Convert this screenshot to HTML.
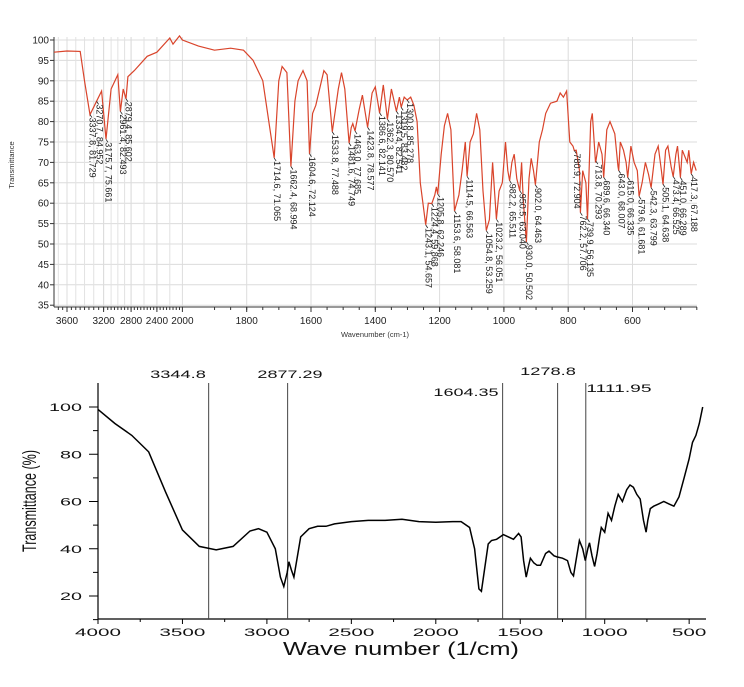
<!DOCTYPE html>
<html><head><meta charset="utf-8"><style>
body{margin:0;background:#fff;width:744px;height:687px;overflow:hidden}
svg{display:block;font-family:"Liberation Sans",sans-serif}
</style></head><body>
<svg id="chart" width="744" height="687" viewBox="0 0 744 687"></svg>
<script>
// ---- top chart data ----
const topWaves=[3750,3600,3450,3400,3337.8,3270.7,3220,3175.7,3100,3000,2961.4,2920,2879.4,2850,2750,2550,2400,2200,2150,2050,2000,1950,1900,1850,1810,1780,1750,1714.6,1700,1690,1675,1662.4,1650,1640,1625,1612,1604.6,1595,1585,1560,1550,1533.8,1515,1505,1495,1481.6,1475,1470,1463,1450,1440,1423.8,1410,1400,1386.6,1375,1362.3,1350,1334.4,1325,1319.5,1310,1300.8,1290,1280,1270,1260,1243.1,1235,1224.4,1215,1210,1205.8,1195,1185,1175,1165,1153.6,1140,1130,1120,1114.5,1105,1095,1085,1075,1065,1054.8,1045,1035,1023.2,1015,1005,995,988,982.2,975,968,960,950.5,945,940,930,922,915,908,902,890,880,870,855,835,825,815,805,795,785,780.9,775,765,762.2,755,745,739.9,730,725,715,713.8,705,695,689.6,680,670,655,645,643,638,628,620,615,605,595,585,579.6,570,560,550,542.3,530,520,510,505.1,497,490,480,473.4,465,460,451,445,440,430,425,417.3,410,402];
const topTrans=[97,97.3,97.2,90,81.7,85,87.5,75.7,88,91.5,82.5,88,85.6,91,92.5,96,97,100.5,99,101,100,98.5,97.5,98,97.5,95,90,71.1,90,93.5,92,69,85,90,92.5,90,72.1,82,84,92.5,91.5,77.5,88,92,88,74.7,78.5,79.5,77.7,83,86.5,78.6,87,88.5,82.1,89,80.6,88,82.5,86,83.5,86,85.3,86,84,80,65,54.7,60,59.9,62,64,62.2,72,79,82,78,58.1,62,68,75,66.6,75,77,82,78,63,53.3,56,70,56.1,63,65,75,68,65.5,70,72,66,63,70,61,50.5,66,71,68,64.5,75,78,82,84.5,85,87,86,87.5,75,74,72.9,73,68,57.7,68,65,56.1,80,82,70,70.3,75,72,66.3,78,80,77,69,68,75,73,70,66.3,74,70,68,61.7,65,70,67,63.8,72,74,68,64.6,73,74,69,66.5,72,74,66.3,73,72,70,73,67.2,70,68];
const peakWaves=[3337.8,3270.7,3175.7,2961.4,2879.4,1714.6,1662.4,1604.6,1533.8,1481.6,1463.0,1423.8,1386.6,1362.3,1334.4,1319.5,1300.8,1243.1,1224.4,1205.8,1153.6,1114.5,1054.8,1023.2,982.2,950.5,930.0,902.0,780.9,762.2,739.9,713.8,689.6,643.0,615.0,579.6,542.3,505.1,473.4,451.0,417.3];
const peakTrans=[81.729,84.952,75.661,82.493,85.602,71.065,68.994,72.124,77.488,74.749,77.685,78.577,82.141,80.570,82.541,83.482,85.278,54.657,59.868,62.246,58.081,66.563,53.259,56.051,65.511,63.040,50.502,64.463,72.904,57.706,56.135,70.293,66.340,68.007,66.335,61.681,63.799,64.638,66.525,66.289,67.188];
const topYTicks=[100,95,90,85,80,75,70,65,60,55,50,45,40,35];
const topXTicks=[3600,3200,2800,2400,2000,1800,1600,1400,1200,1000,800,600];
// ---- bottom chart data ----
const botWaves=[4000,3900,3800,3700,3600,3500,3400,3300,3200,3100,3050,3000,2950,2920,2900,2880,2870,2855,2840,2800,2750,2700,2650,2600,2500,2400,2300,2200,2100,2000,1900,1850,1800,1770,1745,1730,1710,1690,1670,1640,1600,1570,1540,1510,1495,1480,1465,1450,1440,1420,1400,1380,1350,1330,1300,1280,1250,1220,1200,1185,1170,1150,1130,1115,1100,1090,1075,1060,1045,1030,1020,1000,980,960,940,920,895,870,850,830,810,790,770,755,745,730,710,680,650,620,590,560,530,500,480,460,440,420];
const botTrans=[99,93,88,81,64,48,41,39.5,41,47.5,48.5,47,40,28,24,30,34.5,31,28,45,48.5,49.5,49.5,50.5,51.5,52,52,52.5,51.5,51.2,51.5,51.5,49,40,23,22,32,42,43.5,44,46,45,44,46.5,45,35,28,33,36,34,33,33,38,39,37,36.5,36,35,30,28.5,35,43.5,40,35,40,42.5,37,32.5,38,45,49,47,55,52,58,63,60,65,67,66,63,61,52,47,52,57,58,59,60,59,58,62,70,78,85,88,93,100];
const markerWaves=[3344.8,2877.29,1604.35,1278.8,1111.95];
const markerLabels=["3344.8","2877.29","1604.35","1278.8","1111.95"];
const botYTicks=[100,80,60,40,20];
const botXTicks=[4000,3500,3000,2500,2000,1500,1000,500];

const NS="http://www.w3.org/2000/svg";
const svg=document.getElementById('chart');
function mk(tag,attrs,parent,text){const e=document.createElementNS(NS,tag);for(const k in attrs)e.setAttribute(k,attrs[k]);if(text!==undefined)e.textContent=text;(parent||svg).appendChild(e);return e;}

const topLeft=[[3750,54],[3600,67],[3337.8,90],[3175.7,106],[2879,126],[2000,182.7]];
function tx(w){
  if(w<=2000) return 246.7+(1800-w)*0.3215;
  for(let i=0;i<topLeft.length-1;i++){const a=topLeft[i],b=topLeft[i+1];if(w<=a[0]&&w>=b[0])return a[1]+(a[0]-w)/(a[0]-b[0])*(b[1]-a[1]);}
  return 54;
}
function ty(v){return 40+(100-v)*4.08;}
function bx(w){return 98+(4000-w)*0.1689;}
function by(v){return 407+(100-v)*2.3625;}

const gTop=mk('g',{});


topYTicks.forEach(v=>{
  const l=mk('line',{x1:54,x2:697,y1:ty(v),y2:ty(v),stroke:'#dcdcdc','stroke-width':1},gTop);
  
  
  mk('line',{x1:50,x2:54,y1:ty(v),y2:ty(v),stroke:'#333'},gTop);
  const t=mk('text',{x:49,y:ty(v)+3.5,'font-size':10,'text-anchor':'end',fill:'#222'},gTop,String(v));
  
  
});
const leftGrid=[3700,3600,3500,3400,3300,3200,3100,3000,2900,2800,2600,2400,2200];
leftGrid.forEach(w=>mk('line',{x1:tx(w),x2:tx(w),y1:37,y2:307,stroke:'#e2e2e2'},gTop));
topXTicks.forEach(w=>{
  const l=mk('line',{x1:tx(w),x2:tx(w),y1:37,y2:307,stroke:'#dcdcdc'},gTop);
  
  
  mk('line',{x1:tx(w),x2:tx(w),y1:307,y2:312,stroke:'#333'},gTop);
  const t=mk('text',{x:tx(w),y:324,'font-size':10,'text-anchor':'middle',fill:'#222'},gTop,String(w));
  
  
});
for(let w=1900;w>=400;w-=50){mk('line',{x1:tx(w),x2:tx(w),y1:307,y2:310,stroke:'#333'},gTop);}
for(let w=3700;w>2000;w-=50){mk('line',{x1:tx(w),x2:tx(w),y1:307,y2:310,stroke:'#333'},gTop);}
mk('line',{x1:54,x2:54,y1:37,y2:307,stroke:'#333'},gTop);
mk('line',{x1:54,x2:697,y1:307,y2:307,stroke:'#333'},gTop);
const ytt=mk('text',{x:14,y:165,'font-size':7.5,'text-anchor':'middle',fill:'#333',transform:'rotate(-90 14 165)'},gTop,'Transmittance');


const xtt=mk('text',{x:375,y:337,'font-size':7.5,'text-anchor':'middle',fill:'#333'},gTop,'Wavenumber (cm-1)');


const tp=mk('path',{d:topWaves.map((w,i)=>(i?'L':'M')+tx(w).toFixed(1)+','+ty(topTrans[i]).toFixed(1)).join(''),fill:'none',stroke:'#d9442b','stroke-width':1.2},gTop);


peakWaves.forEach((w,i)=>{
  const x=tx(w),y=ty(peakTrans[i]);
  mk('line',{x1:x,x2:x+2,y1:y,y2:y+3,stroke:'#222','stroke-width':0.8},gTop);
  const t=mk('text',{x:x+2,y:y+3,'font-size':9,fill:'#222',transform:`rotate(90 ${x+2} ${y+3})`,'dominant-baseline':'middle'},gTop,w.toFixed(1)+', '+peakTrans[i].toFixed(3));
  
  
});

// bottom chart
const gBot=mk('g',{});


mk('line',{x1:98,x2:98,y1:383,y2:619,stroke:'#000','stroke-width':1.2},gBot);
mk('line',{x1:98,x2:706,y1:619,y2:619,stroke:'#000','stroke-width':1.2},gBot);
botYTicks.forEach(v=>{
  mk('line',{x1:89,x2:98,y1:by(v),y2:by(v),stroke:'#000'},gBot);
  const s=String(v);
  const t=mk('text',{x:82,y:by(v)+4,'font-size':11,'text-anchor':'end',fill:'#111',textLength:s.length*11,lengthAdjust:'spacingAndGlyphs'},gBot,s);
  
  
});
[90,70,50,30,10].forEach(v=>mk('line',{x1:93,x2:98,y1:by(v),y2:by(v),stroke:'#000'},gBot));
botXTicks.forEach(w=>{
  mk('line',{x1:bx(w),x2:bx(w),y1:619,y2:624,stroke:'#000'},gBot);
  const s=String(w);
  const t=mk('text',{x:bx(w),y:636,'font-size':11,'text-anchor':'middle',fill:'#111',textLength:s.length*11.5,lengthAdjust:'spacingAndGlyphs'},gBot,s);
  
  
});
for(let w=3750;w>=750;w-=500)mk('line',{x1:bx(w),x2:bx(w),y1:619,y2:622,stroke:'#000'},gBot);
const bxt=mk('text',{x:401,y:655,'font-size':18,'text-anchor':'middle',fill:'#111',textLength:236,lengthAdjust:'spacingAndGlyphs'},gBot,'Wave number (1/cm)');


const byt=mk('text',{x:36,y:501,'font-size':19,'text-anchor':'middle',fill:'#111',textLength:102,lengthAdjust:'spacingAndGlyphs',transform:'rotate(-90 36 501)'},gBot,'Transmittance (%)');


const labelY=[378,378,396,375,392];
const labelX=[178,290,466,548,619];
markerWaves.forEach((w,i)=>{
  const l=mk('line',{x1:bx(w),x2:bx(w),y1:383,y2:619,stroke:'#444','stroke-width':1},gBot);
  
  
  const s=markerLabels[i];
  const t=mk('text',{x:labelX[i],y:labelY[i],'font-size':11,'text-anchor':'middle',fill:'#111',textLength:s.length*9.3,lengthAdjust:'spacingAndGlyphs'},gBot,s);
  
  
});
const bp=mk('path',{d:botWaves.map((w,i)=>(i?'L':'M')+bx(w).toFixed(1)+','+by(botTrans[i]).toFixed(1)).join(''),fill:'none',stroke:'#000','stroke-width':1.5},gBot);


</script>
</body></html>
